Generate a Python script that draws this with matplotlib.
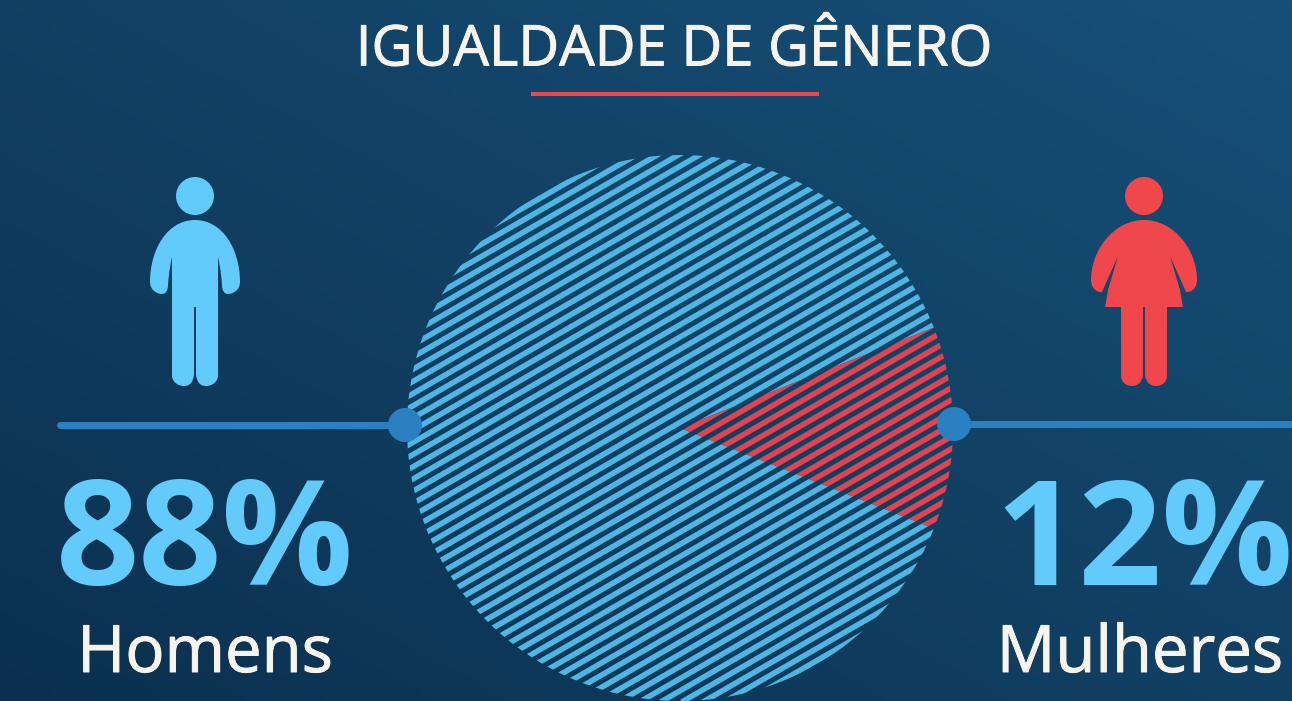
import numpy as np
import matplotlib
matplotlib.use("Agg")
import matplotlib.pyplot as plt
import matplotlib.patheffects as pe
from matplotlib.collections import LineCollection
from matplotlib.patches import Circle, PathPatch
from matplotlib.path import Path

plt.rcParams['font.family'] = ['Open Sans', 'DejaVu Sans']

title = "IGUALDADE DE GÊNERO"
labels = ["Homens", "Mulheres"]
shares = [88, 12]

blue = "#62cbfb"
red = "#f0474c"
stripe_blue = "#4db7e4"
stripe_red = "#e2434e"
line_blue = "#2a80c0"
white = "#f7f4ee"

W, H = 1292, 701
fig = plt.figure(figsize=(W / 100, H / 100), dpi=100)
ax = fig.add_axes([0, 0, 1, 1])

# pie first, it resets the limits
cx, cy, r = 680, 428, 273
half = shares[1] / 100 * 360 / 2
wedges, _ = ax.pie(shares, startangle=half, center=(cx, cy), radius=r,
                   colors=["none", "none"], wedgeprops={"linewidth": 0})

ax.set_xlim(0, W)
ax.set_ylim(H, 0)
ax.set_aspect("auto")
ax.axis("off")

# background gradient, dark bottom left to lighter top right
xx, yy = np.meshgrid(np.linspace(0, 1, 200), np.linspace(0, 1, 110))
t = (xx + (1 - yy)) / 2
c0 = np.array([0x0b, 0x30, 0x4f]) / 255
c1 = np.array([0x17, 0x50, 0x78]) / 255
grad = c0 + (c1 - c0) * t[..., None]
ax.imshow(grad, extent=(0, W, H, 0), aspect="auto", zorder=0)


def wedge_outline(w):
    # sampled outline, the curved clip came out with flat sides
    a = np.radians(np.linspace(w.theta1, w.theta2, 400))
    xs = w.center[0] + w.r * np.cos(a)
    ys = w.center[1] + w.r * np.sin(a)
    pts = [w.center] + list(zip(xs, ys)) + [w.center]
    return Path(pts)


# diagonal stripes clipped to the slices
slope = np.tan(np.radians(30))
offsets = np.arange(-200, 1600, 12.2)
for wedge, col in zip(wedges, [stripe_blue, stripe_red]):
    segs = [[(300, y), (1060, y - slope * 760)] for y in offsets]
    lc = LineCollection(segs, colors=col, linewidths=5.5 * 0.72, zorder=2)
    ax.add_collection(lc)
    lc.set_clip_path(wedge_outline(wedge), ax.transData)

# connector lines
ax.plot([60, 405], [425, 425], color=line_blue, lw=7 * 0.72, solid_capstyle="round", zorder=3)
ax.plot([954, 1292], [424, 424], color=line_blue, lw=7 * 0.72, solid_capstyle="butt", zorder=3)
ax.add_patch(Circle((405, 425), 17, color=line_blue, lw=0, zorder=4))
ax.add_patch(Circle((954, 424), 17, color=line_blue, lw=0, zorder=4))

# title
thick = [pe.withStroke(linewidth=0.7, foreground=white)]
ax.text(674, 51, title, color=white, fontsize=40.5, ha="center", va="center", zorder=5,
        path_effects=thick)
ax.plot([531, 819], [94, 94], color=red, lw=4 * 0.72, solid_capstyle="butt", zorder=5)

# numbers and names
ax.text(205, 530, str(shares[0]) + "%", color=blue, fontsize=105, fontweight="bold",
        ha="center", va="center_baseline", zorder=5)
ax.text(1144, 530, str(shares[1]) + "%", color=blue, fontsize=105, fontweight="bold",
        ha="center", va="center_baseline", zorder=5)
ax.text(205, 647, labels[0], color=white, fontsize=47, ha="center", va="center_baseline", zorder=5,
        path_effects=thick)
ax.text(1140, 647, labels[1], color=white, fontsize=47, ha="center", va="center_baseline", zorder=5,
        path_effects=thick)


# man icon
def man(c):
    pts = [(c + 0, 220), (c + 28, 220), (c + 45, 250), (c + 45, 282),
           (c + 45, 290), (c + 38, 294), (c + 33, 294),
           (c + 29, 294), (c + 27, 290), (c + 27, 285),
           (c + 26, 270), (c + 24, 262), (c + 23, 257)]
    cds = [Path.MOVETO] + [Path.CURVE4] * 12
    pts += [(c + 23, 375), (c + 23, 382), (c + 17, 386), (c + 11, 386),
            (c + 5, 386), (c + 2, 382), (c + 1, 375), (c + 1, 307), (c - 1, 307),
            (c - 1, 375), (c - 2, 382), (c - 5, 386), (c - 11, 386),
            (c - 17, 386), (c - 23, 382), (c - 23, 375), (c - 23, 257)]
    cds += [Path.LINETO] + [Path.CURVE4] * 6 + [Path.LINETO] * 3 + [Path.CURVE4] * 6 + [Path.LINETO]
    pts += [(c - 24, 262), (c - 26, 270), (c - 27, 285),
            (c - 27, 290), (c - 29, 294), (c - 33, 294),
            (c - 38, 294), (c - 45, 290), (c - 45, 282),
            (c - 45, 250), (c - 28, 220), (c, 220)]
    cds += [Path.CURVE4] * 12
    return Path(pts, cds)


# woman icon, thin slit between arm and dress
def woman(c):
    pts = [(c, 220), (c + 30, 220), (c + 53, 250), (c + 53, 280),
           (c + 53, 288), (c + 47, 293), (c + 42, 292),
           (c + 26, 256), (c + 36, 290), (c + 39, 307), (c + 23, 307),
           (c + 23, 375), (c + 23, 382), (c + 18, 386), (c + 12, 386),
           (c + 6, 386), (c + 2, 382), (c + 1, 375), (c + 1, 307), (c - 1, 307),
           (c - 1, 375), (c - 2, 382), (c - 6, 386), (c - 12, 386),
           (c - 18, 386), (c - 23, 382), (c - 23, 375), (c - 23, 307),
           (c - 39, 307), (c - 36, 290), (c - 26, 256), (c - 42, 292),
           (c - 47, 293), (c - 53, 288), (c - 53, 280),
           (c - 53, 250), (c - 30, 220), (c, 220)]
    cds = [Path.MOVETO] + [Path.CURVE4] * 6 + [Path.LINETO] * 4
    cds += [Path.LINETO] + [Path.CURVE4] * 6 + [Path.LINETO] * 3 + [Path.CURVE4] * 6 + [Path.LINETO] * 1
    cds += [Path.LINETO] * 4 + [Path.CURVE4] * 6
    return Path(pts, cds)


ax.add_patch(Circle((195, 196), 19, color=blue, lw=0, zorder=5))
ax.add_patch(PathPatch(man(195), facecolor=blue, lw=0, zorder=5))
ax.add_patch(Circle((1144, 196), 19, color=red, lw=0, zorder=5))
ax.add_patch(PathPatch(woman(1144), facecolor=red, lw=0, zorder=5))

fig.savefig("out.png", dpi=100)
